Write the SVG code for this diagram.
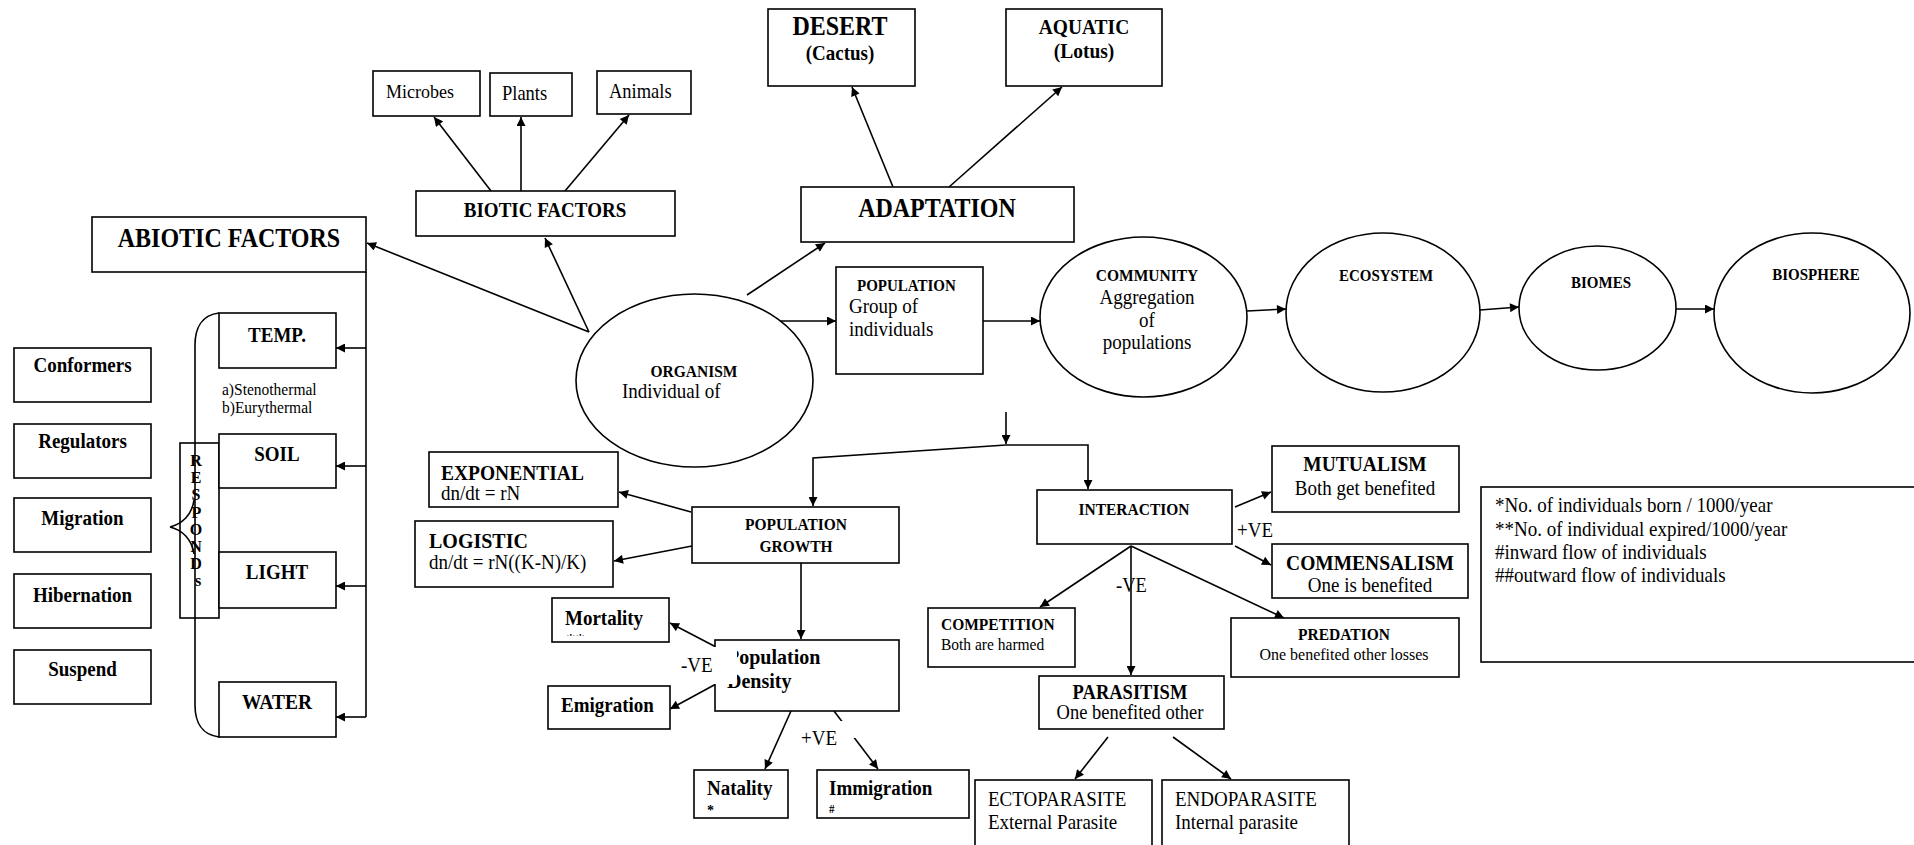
<svg xmlns="http://www.w3.org/2000/svg" width="1914" height="845" viewBox="0 0 1914 845">
  <style>
    .b { fill: #fff; stroke: #000; stroke-width: 1.6; }
    .cn { fill: none; stroke: #000; stroke-width: 1.6; }
    .ar { marker-end: url(#ah); }
    text { font-family: "Liberation Serif", "Times New Roman", serif; fill: #000; font-size: 19px;
           transform-box: fill-box; transform-origin: 50% 100%; transform: scaleY(1.1); }
    text.flat { transform: none; }
    .bd { font-weight: bold; }
    .c { text-anchor: middle; }
    .s15 { font-size: 15.5px; }
    .s24 { font-size: 24px; transform: scaleY(1.13); }
  </style>
  <defs>
    <marker id="ah" viewBox="0 0 10 10" refX="10" refY="5" markerWidth="11" markerHeight="9" markerUnits="userSpaceOnUse" orient="auto">
      <path d="M0,0 L10,5 L0,10 z" fill="#000"/>
    </marker>
    <clipPath id="clipMort"><rect x="553" y="599" width="115" height="37"/></clipPath>
    <clipPath id="clipEmig"><rect x="549" y="687" width="120" height="35"/></clipPath>
  </defs>

  <rect width="1914" height="845" fill="#fff"/>

  <!-- connectors -->
  <g id="connectors">
    <path class="cn ar" d="M589,332 L367,243"/>
    <path class="cn ar" d="M589,332 L545,238"/>
    <path class="cn ar" d="M491,191 L434,117"/>
    <path class="cn ar" d="M521,191 L521,117"/>
    <path class="cn ar" d="M565,191 L629,115"/>
    <path class="cn ar" d="M747,295 L825,243"/>
    <path class="cn ar" d="M893,187 L852,87"/>
    <path class="cn ar" d="M949,187 L1062,87"/>
    <path class="cn ar" d="M779,321 L836,321"/>
    <path class="cn ar" d="M983,321 L1040,321"/>
    <path class="cn ar" d="M1247,311 L1286,309"/>
    <path class="cn ar" d="M1480,310 L1519,307"/>
    <path class="cn ar" d="M1676,309 L1714,309"/>
    <!-- abiotic trunk and branches -->
    <path class="cn" d="M366,272 L366,717"/>
    <path class="cn ar" d="M366,348 L336,348"/>
    <path class="cn ar" d="M366,466 L336,466"/>
    <path class="cn ar" d="M366,586 L336,586"/>
    <path class="cn ar" d="M366,717 L336,717"/>
    <!-- responds bracket -->
    <path class="cn" d="M219,313 C202,315 195,328 195,345 L195,705 C195,722 202,735 219,737"/>
    <path class="cn" d="M170,527 C182,524 192,515 194,500 M170,527 C182,530 192,539 194,554"/>
    <!-- split to growth and interaction -->
    <path class="cn ar" d="M1006,412 L1006,444"/>
    <path class="cn ar" d="M1006,445 L813,458 L813,506"/>
    <path class="cn ar" d="M1006,445 L1088,445 L1088,489"/>
    <!-- population growth -->
    <path class="cn ar" d="M691,512 L619,492"/>
    <path class="cn ar" d="M692,546 L614,561"/>
    <path class="cn ar" d="M801,563 L801,639"/>
    <path class="cn ar" d="M716,647 L670,623"/>
    <path class="cn ar" d="M716,684 L670,709"/>
    <path class="cn ar" d="M791,711 L765,769"/>
    <path class="cn ar" d="M834,711 L878,769"/>
    <!-- interaction -->
    <path class="cn ar" d="M1235,507 L1271,492"/>
    <path class="cn ar" d="M1235,546 L1271,565"/>
    <path class="cn ar" d="M1131,546 L1040,607"/>
    <path class="cn ar" d="M1131,546 L1131,675"/>
    <path class="cn ar" d="M1131,546 L1284,618"/>
    <path class="cn ar" d="M1108,737 L1075,779"/>
    <path class="cn ar" d="M1173,737 L1231,779"/>
  </g>

  <!-- biotic / abiotic -->
  <g id="abiotic">
    <rect class="b" x="92" y="217" width="274" height="55"/>
    <text class="bd c s24" x="229" y="248">ABIOTIC FACTORS</text>
  </g>
  <g id="biotic">
    <rect class="b" x="416" y="191" width="259" height="45"/>
    <text class="bd c" x="545" y="217">BIOTIC FACTORS</text>
  </g>
  <g id="microbes">
    <rect class="b" x="373" y="71" width="107" height="45"/>
    <text x="386" y="98" style="font-size:18px">Microbes</text>
  </g>
  <g id="plants">
    <rect class="b" x="490" y="73" width="82" height="43"/>
    <text x="502" y="100" style="font-size:18.5px">Plants</text>
  </g>
  <g id="animals">
    <rect class="b" x="597" y="71" width="94" height="43"/>
    <text x="609" y="98" style="font-size:18.5px">Animals</text>
  </g>

  <!-- adaptation -->
  <g id="desert">
    <rect class="b" x="768" y="9" width="147" height="77"/>
    <text class="bd c s24" x="840" y="36">DESERT</text>
    <text class="bd c" x="840" y="60">(Cactus)</text>
  </g>
  <g id="aquatic">
    <rect class="b" x="1006" y="9" width="156" height="77"/>
    <text class="bd c" x="1084" y="34" style="font-size:19.5px">AQUATIC</text>
    <text class="bd c" x="1084" y="58" style="font-size:19.5px">(Lotus)</text>
  </g>
  <g id="adaptation">
    <rect class="b" x="801" y="187" width="273" height="55"/>
    <text class="bd c s24" x="937" y="218">ADAPTATION</text>
  </g>

  <!-- levels of organisation -->
  <g id="organism">
    <ellipse class="b" cx="694.5" cy="380.5" rx="118.5" ry="86.5"/>
    <text class="bd c s15" x="694" y="377">ORGANISM</text>
    <text x="622" y="398">Individual of</text>
  </g>
  <g id="population">
    <rect class="b" x="836" y="267" width="147" height="107"/>
    <text class="bd" x="857" y="291" style="font-size:15px">POPULATION</text>
    <text x="849" y="313">Group of</text>
    <text x="849" y="336">individuals</text>
  </g>
  <g id="community">
    <ellipse class="b" cx="1143.5" cy="317" rx="103.5" ry="80"/>
    <text class="bd c s15" x="1147" y="281">COMMUNITY</text>
    <text class="c" x="1147" y="304">Aggregation</text>
    <text class="c" x="1147" y="327">of</text>
    <text class="c" x="1147" y="349">populations</text>
  </g>
  <g id="ecosystem">
    <ellipse class="b" cx="1383" cy="312.5" rx="97" ry="79.5"/>
    <text class="bd c" x="1386" y="281" style="font-size:15px">ECOSYSTEM</text>
  </g>
  <g id="biomes">
    <ellipse class="b" cx="1597.5" cy="308" rx="78.5" ry="62"/>
    <text class="bd c" x="1601" y="288" style="font-size:15px">BIOMES</text>
  </g>
  <g id="biosphere">
    <ellipse class="b" cx="1812" cy="313" rx="98" ry="80"/>
    <text class="bd c" x="1816" y="280" style="font-size:15px">BIOSPHERE</text>
  </g>

  <!-- responses -->
  <g id="conformers">
    <rect class="b" x="14" y="348" width="137" height="54"/>
    <text class="bd c" x="82.5" y="372">Conformers</text>
  </g>
  <g id="regulators">
    <rect class="b" x="14" y="424" width="137" height="54"/>
    <text class="bd c" x="82.5" y="448">Regulators</text>
  </g>
  <g id="migration">
    <rect class="b" x="14" y="498" width="137" height="54"/>
    <text class="bd c" x="82.5" y="525">Migration</text>
  </g>
  <g id="hibernation">
    <rect class="b" x="14" y="574" width="137" height="54"/>
    <text class="bd c" x="82.5" y="602">Hibernation</text>
  </g>
  <g id="suspend">
    <rect class="b" x="14" y="650" width="137" height="54"/>
    <text class="bd c" x="82.5" y="676">Suspend</text>
  </g>
  <g id="responds">
    <rect x="180" y="443" width="39" height="175" fill="none" stroke="#000" stroke-width="1.6"/>
    <text class="bd c flat" style="font-size:16px">
      <tspan x="198" y="466">R</tspan>
      <tspan x="198" y="483.2">E</tspan>
      <tspan x="198" y="500.4">S</tspan>
      <tspan x="198" y="517.6">P</tspan>
      <tspan x="198" y="534.8">O</tspan>
      <tspan x="198" y="552">N</tspan>
      <tspan x="198" y="569.2">D</tspan>
      <tspan x="198" y="586.4">s</tspan>
    </text>
  </g>

  <!-- abiotic factors -->
  <g id="temp">
    <rect class="b" x="219" y="313" width="117" height="55"/>
    <text class="bd c" x="277" y="342">TEMP.</text>
    <text x="222" y="395" style="font-size:15.5px">a)Stenothermal</text>
    <text x="222" y="413" style="font-size:15.5px">b)Eurythermal</text>
  </g>
  <g id="soil">
    <rect class="b" x="219" y="434" width="117" height="54"/>
    <text class="bd c" x="277" y="461">SOIL</text>
  </g>
  <g id="light">
    <rect class="b" x="219" y="552" width="117" height="56"/>
    <text class="bd c" x="277" y="579">LIGHT</text>
  </g>
  <g id="water">
    <rect class="b" x="219" y="682" width="117" height="55"/>
    <text class="bd c" x="277" y="709" style="font-size:19.5px">WATER</text>
  </g>

  <!-- population growth -->
  <g id="exponential">
    <rect class="b" x="429" y="452" width="189" height="55"/>
    <text class="bd" x="441" y="480" style="font-size:19.5px">EXPONENTIAL</text>
    <text x="441" y="500">dn/dt = rN</text>
  </g>
  <g id="logistic">
    <rect class="b" x="415" y="521" width="198" height="66"/>
    <text class="bd" x="429" y="548" style="font-size:20px">LOGISTIC</text>
    <text x="429" y="569">dn/dt = rN((K-N)/K)</text>
  </g>
  <g id="population-growth">
    <rect class="b" x="692" y="507" width="207" height="56"/>
    <text class="bd c s15" x="796" y="530">POPULATION</text>
    <text class="bd c s15" x="796" y="552">GROWTH</text>
  </g>
  <g id="population-density">
    <rect class="b" x="715" y="640" width="184" height="71"/>
    <text class="bd" x="727" y="664" style="font-size:20px">Population</text>
    <text class="bd" x="727" y="688" style="font-size:20px">Density</text>
  </g>
  <g id="mortality">
    <rect class="b" x="552" y="598" width="117" height="44"/>
    <text class="bd" x="565" y="625">Mortality</text>
    <text class="flat" x="566" y="647" clip-path="url(#clipMort)">**</text>
  </g>
  <g id="emigration">
    <rect class="b" x="548" y="686" width="122" height="43"/>
    <text class="bd" x="561" y="712">Emigration</text>
    <text class="flat" x="562" y="733" clip-path="url(#clipEmig)" style="font-size:16px">##</text>
  </g>
  <g id="natality">
    <rect class="b" x="694" y="770" width="94" height="48"/>
    <text class="bd" x="707" y="795">Natality</text>
    <text class="bd" x="707" y="815" style="font-size:14px">*</text>
  </g>
  <g id="immigration">
    <rect class="b" x="817" y="770" width="152" height="48"/>
    <text class="bd" x="829" y="795">Immigration</text>
    <text class="bd" x="829" y="813" style="font-size:11px">#</text>
  </g>

  <!-- interactions -->
  <g id="interaction">
    <rect class="b" x="1037" y="490" width="195" height="54"/>
    <text class="bd c s15" x="1134" y="515">INTERACTION</text>
  </g>
  <g id="mutualism">
    <rect class="b" x="1272" y="446" width="187" height="66"/>
    <text class="bd c" x="1365" y="471" style="font-size:19.5px">MUTUALISM</text>
    <text class="c" x="1365" y="495">Both get benefited</text>
  </g>
  <g id="commensalism">
    <rect class="b" x="1272" y="544" width="196" height="54"/>
    <text class="bd c" x="1370" y="570" style="font-size:19.5px">COMMENSALISM</text>
    <text class="c" x="1370" y="592">One is benefited</text>
  </g>
  <g id="competition">
    <rect class="b" x="928" y="608" width="147" height="59"/>
    <text class="bd s15" x="941" y="630">COMPETITION</text>
    <text class="s15" x="941" y="650">Both are harmed</text>
  </g>
  <g id="predation">
    <rect class="b" x="1231" y="618" width="228" height="59"/>
    <text class="bd c s15" x="1344" y="640">PREDATION</text>
    <text class="c" x="1344" y="660" style="font-size:16px">One benefited other losses</text>
  </g>
  <g id="parasitism">
    <rect class="b" x="1039" y="676" width="185" height="53"/>
    <text class="bd c" x="1130" y="699" style="font-size:18.5px">PARASITISM</text>
    <text class="c" x="1130" y="719" style="font-size:18.5px">One benefited other</text>
  </g>
  <g id="ectoparasite">
    <rect class="b" x="975" y="780" width="177" height="80"/>
    <text x="988" y="806">ECTOPARASITE</text>
    <text x="988" y="829">External Parasite</text>
  </g>
  <g id="endoparasite">
    <rect class="b" x="1162" y="780" width="187" height="80"/>
    <text x="1175" y="806">ENDOPARASITE</text>
    <text x="1175" y="829">Internal parasite</text>
  </g>

  <!-- legend -->
  <g id="legend">
    <rect class="b" x="1481" y="487" width="440" height="175"/>
    <text x="1495" y="512">*No. of individuals born / 1000/year</text>
    <text x="1495" y="536">**No. of individual expired/1000/year</text>
    <text x="1495" y="559">#inward flow of individuals</text>
    <text x="1495" y="582">##outward flow of individuals</text>
  </g>

  <!-- edge labels -->
  <g id="labels">
    <rect x="676" y="647" width="61" height="37" fill="#fff"/>
    <text x="681" y="672">-VE</text>
    <rect x="798" y="721" width="58" height="17" fill="#fff"/>
    <text x="801" y="745">+VE</text>
    <text x="1116" y="592" style="font-size:18.5px">-VE</text>
    <text x="1237" y="537">+VE</text>
  </g>
</svg>
